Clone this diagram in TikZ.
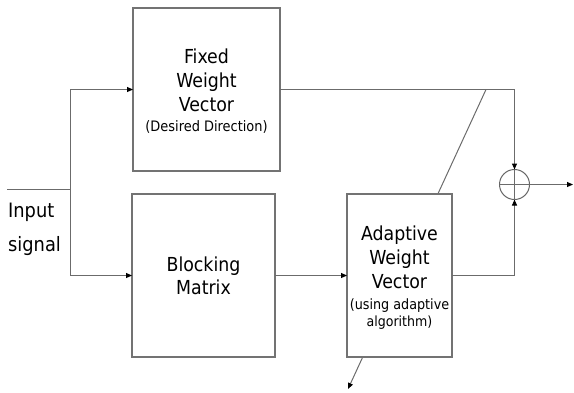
\documentclass[tikz,border=0pt]{standalone}
\usepackage{fontspec}
\setmainfont{DejaVu Sans Condensed}
\usetikzlibrary{arrows.meta,positioning}

\tikzset{
  wire/.style={draw=black!58, line width=1pt},
  arr/.style={wire, -{Triangle[length=6pt,width=5pt,color=black]}},
  blockbox/.style={draw=black!55, line width=1.1pt, fill=white, rectangle,
    inner sep=0pt, outer sep=0pt},
  boxtext/.style={align=center, inner sep=0pt,
    font=\fontsize{19.3}{24}\selectfont},
  sumnode/.style={draw=black!60, line width=1pt, circle, minimum size=30pt,
    inner sep=0pt, outer sep=0pt}
}

\begin{document}
\begin{tikzpicture}[x=1pt, y=-1pt]
  \useasboundingbox (0,0) rectangle (574,392);

  % coordinates of the branch points
  \coordinate (inA) at (7,189);
  \coordinate (split) at (70,189);
  \coordinate (wtop) at (486,89.5);
  \coordinate (wbot) at (348,389);
  \coordinate (outE) at (573,184.5);

  % weight update path, drawn first so the adaptive block hides its middle
  \draw[arr] (wtop) -- (wbot);

  % blocks
  \node[blockbox, minimum width=147pt, minimum height=163pt] (fixed) at (206.5,89.5) {};
  \node[blockbox, minimum width=143pt, minimum height=163pt] (block) at (203.5,275.5) {};
  \node[blockbox, minimum width=105pt, minimum height=163pt] (adapt) at (399.5,275.5) {};
  \node[sumnode] (sum) at (514.5,184.5) {};

  % block labels
  \node[boxtext] (fixedtxt) at ([yshift=-1.5pt]fixed.center)
    {Fixed\\Weight\\Vector\\[-4pt]{\fontsize{14.4}{17}\selectfont (Desired Direction)}};
  \node[boxtext] (blocktxt) at ([yshift=-0.6pt]block.center)
    {Blocking\\[-1pt]Matrix};
  \node[boxtext] (adapttxt) at ([yshift=-2.3pt]adapt.center)
    {Adaptive\\Weight\\Vector\\[-3pt]{\fontsize{14.2}{17}\selectfont (using adaptive}\\[-7pt]{\fontsize{14}{17}\selectfont algorithm)}};

  % input label
  \node[anchor=base west, inner sep=0pt, font=\fontsize{19.8}{24}\selectfont] (inlabA) at (8,217) {Input};
  \node[anchor=base west, inner sep=0pt, font=\fontsize{19.8}{24}\selectfont] (inlabB) at (8,251) {signal};

  % connectors
  \draw[wire] (inA) -- (split);
  \draw[arr] (split) |- (fixed.west);
  \draw[arr] (split) |- (block.west);
  \draw[arr] (block.east) -- (adapt.west);
  \draw[arr] (fixed.east) -| (sum.north);
  \draw[arr] (adapt.east) -| (sum.south);
  \draw[arr] (sum.east) -- (outE);

  % cross inside the summing junction
  \draw[wire] (sum.north) -- (sum.south);
  \draw[wire] (sum.west) -- (sum.east);
\end{tikzpicture}
\end{document}
